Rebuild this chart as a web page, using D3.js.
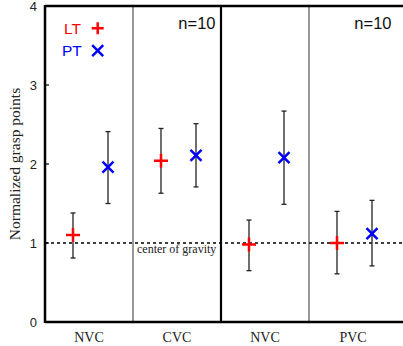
<!DOCTYPE html>
<html>
<head>
<meta charset="utf-8">
<script src="https://cdn.jsdelivr.net/npm/d3@7"></script>
<style>
  body { margin: 0; background: #fff; }
</style>
</head>
<body>
<div id="chart"></div>
<script>
var svgWidth = 403;
var svgHeight = 346;

var margin = { top: 6, right: 6, bottom: 24, left: 45 };

// conditions (panels) and series
var conditions = ["NVC", "CVC", "NVC ", "PVC"];
var conditionLabels = ["NVC", "CVC", "NVC", "PVC"];
var seriesNames = ["LT", "PT"];

// means and error bar ends, per condition
var ltMean = [1.10, 2.04, 0.98, 1.00];
var ltLow  = [0.81, 1.63, 0.65, 0.61];
var ltHigh = [1.38, 2.45, 1.29, 1.40];

var ptMean = [1.96, 2.11, 2.08, 1.12];
var ptLow  = [1.50, 1.71, 1.49, 0.71];
var ptHigh = [2.41, 2.51, 2.67, 1.54];

var yTicks = [0, 1, 2, 3, 4];
var nLabels = ["n=10", "n=10"];

var width = 352;
var height = svgHeight - margin.top - margin.bottom;

var svg = d3.select("#chart")
    .append("svg")
    .attr("width", svgWidth)
    .attr("height", svgHeight);

var g = svg.append("g")
    .attr("transform", `translate(${margin.left}, ${margin.top})`);

var x = d3.scaleBand()
    .domain(conditions)
    .range([0, width]);

// offset of each series within a panel
var xSeries = d3.scalePoint()
    .domain(seriesNames)
    .range([x.bandwidth() / 2 - 16, x.bandwidth() / 2 + 19]);

var y = d3.scaleLinear()
    .domain([0, 4])
    .range([height, 0]);

// panel dividers
conditions.slice(1).forEach(function(c, i) {
    g.append("line")
        .attr("x1", x(c)).attr("x2", x(c))
        .attr("y1", 0).attr("y2", height)
        .attr("stroke", i == 1 ? "#000" : "#555")
        .attr("stroke-width", i == 1 ? 2.2 : 1.2);
});

// center of gravity line
g.append("line")
    .attr("x1", 0).attr("x2", svgWidth - margin.left)
    .attr("y1", y(1)).attr("y2", y(1))
    .attr("stroke", "#000")
    .attr("stroke-width", 1.3)
    .attr("stroke-dasharray", "3,3");

g.append("text")
    .attr("x", x(conditions[1]) + 4)
    .attr("y", y(1) + 10)
    .attr("font-family", "Liberation Serif, serif")
    .attr("font-size", 12)
    .attr("fill", "#222")
    .text("center of gravity");

// y axis ticks and labels
var yAxis = g.append("g");
yTicks.forEach(function(t) {
    yAxis.append("line")
        .attr("x1", 0).attr("x2", 4)
        .attr("y1", y(t)).attr("y2", y(t))
        .attr("stroke", "#000").attr("stroke-width", 1.2);
    yAxis.append("text")
        .attr("x", -8)
        .attr("y", y(t))
        .attr("dy", "0.35em")
        .attr("text-anchor", "end")
        .attr("font-family", "Liberation Sans, Arial, sans-serif")
        .attr("font-size", 13)
        .attr("fill", "#222")
        .text(t);
});

// frame: left, top, bottom
g.append("line").attr("x1", 0).attr("x2", 0).attr("y1", -1).attr("y2", height + 1)
    .attr("stroke", "#000").attr("stroke-width", 2.5);
g.append("line").attr("x1", 0).attr("x2", svgWidth - margin.left).attr("y1", 0).attr("y2", 0)
    .attr("stroke", "#000").attr("stroke-width", 2.5);
g.append("line").attr("x1", 0).attr("x2", svgWidth - margin.left).attr("y1", height).attr("y2", height)
    .attr("stroke", "#000").attr("stroke-width", 2.5);

// category labels
conditions.forEach(function(c, i) {
    g.append("text")
        .attr("x", x(c) + x.bandwidth() / 2)
        .attr("y", height + 20)
        .attr("text-anchor", "middle")
        .attr("font-family", "Liberation Serif, serif")
        .attr("font-size", 14)
        .attr("fill", "#222")
        .text(conditionLabels[i]);
});

// y axis title
svg.append("text")
    .attr("transform", `translate(20, ${margin.top + height / 2}) rotate(-90)`)
    .attr("text-anchor", "middle")
    .attr("font-family", "Liberation Serif, serif")
    .attr("font-size", 15.5)
    .attr("fill", "#222")
    .text("Normalized grasp points");

// n labels in panels 2 and 4
[conditions[1], conditions[3]].forEach(function(c, i) {
    g.append("text")
        .attr("x", x(c) + x.bandwidth() - 5.5)
        .attr("y", 23)
        .attr("text-anchor", "end")
        .attr("font-family", "Liberation Sans, Arial, sans-serif")
        .attr("font-size", 16.5)
        .attr("fill", "#111")
        .text(nLabels[i]);
});

// build point data
var points = [];
conditions.forEach(function(c, i) {
    points.push({ cond: c, s: "LT", m: ltMean[i], lo: ltLow[i], hi: ltHigh[i] });
    points.push({ cond: c, s: "PT", m: ptMean[i], lo: ptLow[i], hi: ptHigh[i] });
});

var px = d => x(d.cond) + xSeries(d.s);

// error bars
var bars = g.selectAll(".err")
    .data(points)
    .enter()
    .append("g")
    .attr("class", "err");

bars.append("line")
    .attr("x1", px).attr("x2", px)
    .attr("y1", d => y(d.lo)).attr("y2", d => y(d.hi))
    .attr("stroke", "#222").attr("stroke-width", 1.3);
bars.append("line")
    .attr("x1", d => px(d) - 2.5).attr("x2", d => px(d) + 2.5)
    .attr("y1", d => y(d.lo)).attr("y2", d => y(d.lo))
    .attr("stroke", "#222").attr("stroke-width", 1.3);
bars.append("line")
    .attr("x1", d => px(d) - 2.5).attr("x2", d => px(d) + 2.5)
    .attr("y1", d => y(d.hi)).attr("y2", d => y(d.hi))
    .attr("stroke", "#222").attr("stroke-width", 1.3);

// markers
function plus(sel, cx, cy, r) {
    sel.append("path")
        .attr("d", `M${cx - r},${cy}H${cx + r}M${cx},${cy - r}V${cy + r}`)
        .attr("stroke", "#ff0000").attr("stroke-width", 2.5).attr("fill", "none");
}
function cross(sel, cx, cy, r) {
    sel.append("path")
        .attr("d", `M${cx - r},${cy - r}L${cx + r},${cy + r}M${cx - r},${cy + r}L${cx + r},${cy - r}`)
        .attr("stroke", "#0000ff").attr("stroke-width", 2.5).attr("fill", "none");
}

points.forEach(function(d) {
    if (d.s == "LT") plus(g, px(d), y(d.m), 7);
    else cross(g, px(d), y(d.m), 5.5);
});

// legend
var legend = g.append("g");
legend.append("text")
    .attr("x", 19).attr("y", 28)
    .attr("font-family", "Liberation Sans, Arial, sans-serif")
    .attr("font-size", 15.5)
    .attr("fill", "#ff0000")
    .text("LT");
plus(legend, 52.7, 22.3, 6);
legend.append("text")
    .attr("x", 17).attr("y", 50)
    .attr("font-family", "Liberation Sans, Arial, sans-serif")
    .attr("font-size", 15.5)
    .attr("fill", "#0000ff")
    .text("PT");
cross(legend, 52.7, 44.7, 5.5);
</script>
</body>
</html>
